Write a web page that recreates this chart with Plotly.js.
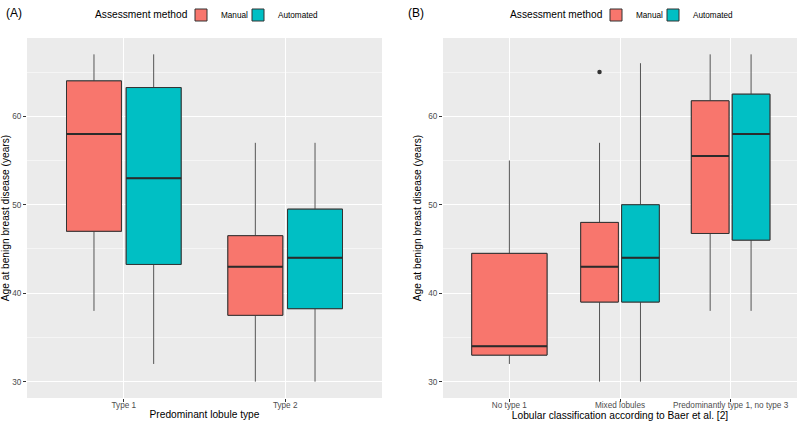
<!DOCTYPE html>
<html>
<head>
<meta charset="utf-8">
<script src="https://cdn.plot.ly/plotly-3.0.1.min.js"></script>
<style>html,body{margin:0;padding:0;background:#fff}#chart{width:800px;height:425px}</style>
</head>
<body>
<div id="chart"></div>
<script>
// ---------- Data ----------
const catsA = ['Type 1', 'Type 2'];
const manA_lo  = [38, 30];
const manA_q1  = [47, 37.5];
const manA_med = [58, 43];
const manA_q3  = [64, 46.5];
const manA_hi  = [67, 57];
const autA_lo  = [32, 30];
const autA_q1  = [43.25, 38.25];
const autA_med = [53, 44];
const autA_q3  = [63.25, 49.5];
const autA_hi  = [67, 57];

const catsB = ['No type 1', 'Mixed lobules', 'Predominantly type 1, no type 3'];
const catsB_pair = ['Mixed lobules', 'Predominantly type 1, no type 3'];
const manB_lo  = [30, 38];
const manB_q1  = [39, 46.75];
const manB_med = [43, 55.5];
const manB_q3  = [48, 61.75];
const manB_hi  = [57, 67];
const autB_lo  = [30, 38];
const autB_q1  = [39, 46];
const autB_med = [44, 58];
const autB_q3  = [50, 62.5];
const autB_hi  = [66, 67];
const catsB_single = ['No type 1'];
const manB1_lo  = [32];
const manB1_q1  = [33];
const manB1_med = [34];
const manB1_q3  = [44.5];
const manB1_hi  = [55];
const outlierCat = ['Mixed lobules'];
const outlierVal = [65];

// ---------- Styling ----------
const FONT = '"Liberation Sans", Arial, Helvetica, sans-serif';
const RED = '#F8766D', TEAL = '#00BFC4', EDGE = '#333333', WHISK = '#555555';
const BOXGAP = 0.26, GROUPGAP = 0.08;
const YRANGE = [28.15, 68.85];
const YDOM = [0.0635, 0.9106];

// one box = whiskers layer + box layer + thick median layer, all in the same slot
function boxSet(name, x, lo, q1, med, q3, hi, color, xa, ya, legend, showlegend, width) {
  const common = {type: 'box', x: x, xaxis: xa, yaxis: ya, legend: legend,
                  boxpoints: false, whiskerwidth: 0, hoverinfo: 'skip'};
  if (width) common.width = width; else common.offsetgroup = name;
  return [
    Object.assign({}, common, {name: name, lowerfence: lo, q1: q1, median: med, q3: q3, upperfence: hi,
      fillcolor: 'rgba(0,0,0,0)', line: {color: WHISK, width: 1}, showlegend: false}),
    Object.assign({}, common, {name: name, lowerfence: q1, q1: q1, median: med, q3: q3, upperfence: q3,
      fillcolor: color, line: {color: EDGE, width: 1}, showlegend: showlegend}),
    Object.assign({}, common, {name: name, lowerfence: med, q1: med, median: med, q3: med, upperfence: med,
      fillcolor: 'rgba(0,0,0,0)', line: {color: '#2b2b2b', width: 2}, showlegend: false})
  ];
}

const SINGLE_W = (1 - BOXGAP) * (1 - GROUPGAP);

const traces = [].concat(
  boxSet('Manual', catsA, manA_lo, manA_q1, manA_med, manA_q3, manA_hi, RED, 'x', 'y', 'legend', true),
  boxSet('Automated', catsA, autA_lo, autA_q1, autA_med, autA_q3, autA_hi, TEAL, 'x', 'y', 'legend2', true),
  boxSet('Manual', catsB_pair, manB_lo, manB_q1, manB_med, manB_q3, manB_hi, RED, 'x2', 'y2', 'legend3', true),
  boxSet('Automated', catsB_pair, autB_lo, autB_q1, autB_med, autB_q3, autB_hi, TEAL, 'x2', 'y2', 'legend4', true),
  boxSet('Manual', catsB_single, manB1_lo, manB1_q1, manB1_med, manB1_q3, manB1_hi, RED, 'x2', 'y2', 'legend3', false, SINGLE_W),
  [{
    type: 'scatter', mode: 'markers',
    x: outlierCat.map(c => catsB.indexOf(c) - (1 - BOXGAP) / 4),
    y: outlierVal, xaxis: 'x4', yaxis: 'y2', showlegend: false, hoverinfo: 'skip',
    marker: {size: 4.5, color: EDGE}
  }]
);

const tickFont = {family: FONT, size: 8.2, color: '#4D4D4D'};
const titleFont = {family: FONT, size: 10.2, color: '#000000'};

function xAxis(dom, anchor, cats, title) {
  return {
    domain: dom, anchor: anchor, type: 'category',
    categoryorder: 'array', categoryarray: cats,
    range: [-0.6, cats.length - 0.4],
    showgrid: true, gridcolor: '#FFFFFF', gridwidth: 1,
    zeroline: false, showline: false,
    ticks: 'outside', ticklen: 3, tickwidth: 1, tickcolor: '#333333',
    tickfont: tickFont, automargin: false, ticklabelstandoff: -4,
    title: {text: title, font: titleFont, standoff: 2}
  };
}
function yAxis(anchor) {
  return {
    domain: YDOM, anchor: anchor, range: YRANGE,
    tick0: 0, dtick: 10,
    showgrid: true, gridcolor: '#FFFFFF', gridwidth: 1,
    minor: {tick0: 0, dtick: 5, showgrid: true, gridcolor: '#FFFFFF', gridwidth: 0.5},
    zeroline: false, showline: false,
    ticks: 'outside', ticklen: 3, tickwidth: 1, tickcolor: '#333333',
    tickfont: tickFont, automargin: false,
    title: {text: 'Age at benign breast disease (years)', font: titleFont, standoff: 4}
  };
}

const LEG_Y = 1 - 15 / 425;
function legendAt(px) {
  return {
    orientation: 'h', xanchor: 'left', yanchor: 'middle', y: LEG_Y, x: px / 800,
    bgcolor: 'rgba(0,0,0,0)', font: {family: FONT, size: 8.2, color: '#000'}
  };
}
const legTitleFont = {family: FONT, size: 10.2, color: '#000'};

const layout = {
  width: 800, height: 425,
  margin: {l: 0, r: 0, t: 0, b: 0},
  paper_bgcolor: '#FFFFFF', plot_bgcolor: '#EBEBEB',
  font: {family: FONT},
  boxmode: 'group', boxgap: BOXGAP, boxgroupgap: GROUPGAP,
  xaxis: xAxis([27 / 800, 382 / 800], 'y', catsA, 'Predominant lobule type'),
  yaxis: yAxis('x'),
  xaxis2: xAxis([443 / 800, 797 / 800], 'y2', catsB, 'Lobular classification according to Baer et al. [2]'),
  yaxis2: yAxis('x2'),
  xaxis4: {overlaying: 'x2', anchor: 'y2', type: 'linear',
           range: [-0.6, catsB.length - 0.4], visible: false},
  legend: legendAt(181),
  legend2: legendAt(238),
  legend3: legendAt(596),
  legend4: legendAt(653),
  annotations: [
    {text: '(A)', xref: 'paper', yref: 'paper', x: 4 / 800, y: 1 - 13 / 425,
     xanchor: 'left', yanchor: 'middle', showarrow: false, font: {family: FONT, size: 12, color: '#000'}},
    {text: '(B)', xref: 'paper', yref: 'paper', x: 406 / 800, y: 1 - 13 / 425,
     xanchor: 'left', yanchor: 'middle', showarrow: false, font: {family: FONT, size: 12, color: '#000'}},
    {text: 'Assessment method', xref: 'paper', yref: 'paper', x: 190 / 800, y: LEG_Y,
     xanchor: 'right', yanchor: 'middle', showarrow: false, font: legTitleFont},
    {text: 'Assessment method', xref: 'paper', yref: 'paper', x: 605 / 800, y: LEG_Y,
     xanchor: 'right', yanchor: 'middle', showarrow: false, font: legTitleFont}
  ]
};

Plotly.newPlot('chart', traces, layout, {staticPlot: true, displayModeBar: false});
</script>
</body>
</html>
